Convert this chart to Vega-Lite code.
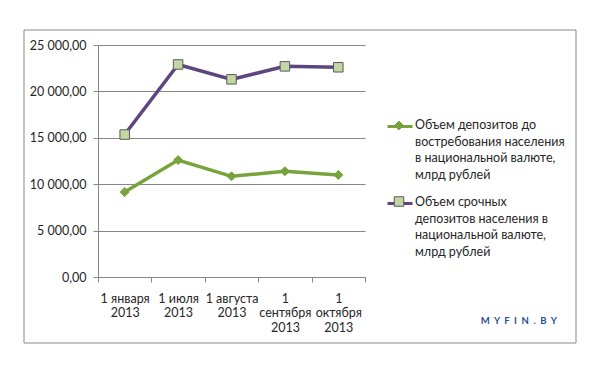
{
  "$schema": "https://vega.github.io/schema/vega-lite/v6.json",
  "autosize": {"type": "none"},
  "width": 267,
  "height": 232,
  "padding": {"left": 98, "top": 45, "right": 229, "bottom": 89},
  "background": "white",
  "title": {"text": "M\u00a0\u00a0Y\u00a0\u00a0F\u00a0\u00a0I\u00a0\u00a0N\u00a0\u00a0.\u00a0\u00a0B\u00a0\u00a0Y", "orient": "bottom", "anchor": "end", "frame": "group", "dx": 192, "offset": -28, "fontSize": 9.5, "fontWeight": "bold", "color": "#1f4f93", "font": "Lato"},
  "config": {
    "font": "Lato",
    "view": {"stroke": null},
    "style": {"guide-label": {"lineHeight": 16.7}},
    "axis": {"labelFont": "Lato", "labelFontSize": 12.5, "labelColor": "#262626", "domainColor": "#868686", "tickColor": "#868686", "gridColor": "#868686", "title": null},
    "legend": {"labelFont": "Lato", "labelFontSize": 12.5, "labelColor": "#262626", "labelLimit": 250}
  },
  "datasets": {
    "deposits": [
      {"date": "1 января\n2013", "series": "Объем депозитов до\nвостребования населения\nв национальной валюте,\nмлрд рублей", "value": 9150},
      {"date": "1 июля\n2013", "series": "Объем депозитов до\nвостребования населения\nв национальной валюте,\nмлрд рублей", "value": 12600},
      {"date": "1 августа\n2013", "series": "Объем депозитов до\nвостребования населения\nв национальной валюте,\nмлрд рублей", "value": 10850},
      {"date": "1\nсентября\n2013", "series": "Объем депозитов до\nвостребования населения\nв национальной валюте,\nмлрд рублей", "value": 11400},
      {"date": "1\nоктября\n2013", "series": "Объем депозитов до\nвостребования населения\nв национальной валюте,\nмлрд рублей", "value": 11000},
      {"date": "1 января\n2013", "series": "Объем срочных\nдепозитов населения в\nнациональной валюте,\nмлрд рублей", "value": 15350},
      {"date": "1 июля\n2013", "series": "Объем срочных\nдепозитов населения в\nнациональной валюте,\nмлрд рублей", "value": 22900},
      {"date": "1 августа\n2013", "series": "Объем срочных\nдепозитов населения в\nнациональной валюте,\nмлрд рублей", "value": 21300},
      {"date": "1\nсентября\n2013", "series": "Объем срочных\nдепозитов населения в\nнациональной валюте,\nмлрд рублей", "value": 22700},
      {"date": "1\nоктября\n2013", "series": "Объем срочных\nдепозитов населения в\nнациональной валюте,\nмлрд рублей", "value": 22600}
    ]
  },
  "data": {"name": "deposits"},
  "encoding": {
    "x": {
      "field": "date", "type": "nominal", "sort": null,
      "scale": {"paddingInner": 0, "paddingOuter": 0},
      "axis": {"labelAngle": 0, "labelExpr": "split(datum.label, '\\n')", "labelLineHeight": 14.5, "labelBaseline": "top", "labelPadding": 10, "tickBand": "extent", "tickSize": 5, "grid": false}
    },
    "y": {
      "field": "value", "type": "quantitative",
      "scale": {"domain": [0, 25000], "nice": false},
      "axis": {"values": [0, 5000, 10000, 15000, 20000, 25000], "tickSize": 5, "labelPadding": 7, "grid": true,
        "labelExpr": "replace(replace(format(datum.value, ',.2f'), ',', ' '), '.', ',')"}
    }
  },
  "layer": [
    {
      "data": {"values": [{}]},
      "mark": {"type": "rect", "fill": null, "stroke": "#898989", "strokeWidth": 1},
      "encoding": {"x": {"value": -74}, "x2": {"value": 478}, "y": {"value": -15}, "y2": {"value": 298}}
    },
    {
      "mark": {"type": "line", "strokeWidth": 3.5},
      "encoding": {
        "color": {"field": "series", "type": "nominal",
          "scale": {"domain": ["Объем депозитов до\nвостребования населения\nв национальной валюте,\nмлрд рублей", "Объем срочных\nдепозитов населения в\nнациональной валюте,\nмлрд рублей"], "range": ["#77a33b", "#5d4680"]},
          "legend": {"title": null, "orient": "none", "legendX": 288, "legendY": 60, "padding": 0, "symbolType": "M-1,0.6H1", "symbolSize": 625, "symbolStrokeWidth": 3, "labelOffset": 1, "rowPadding": 0, "labelExpr": "split(datum.label, '\\n')", "labelBaseline": "top"}
        }
      }
    },
    {
      "mark": {"type": "point", "filled": true, "opacity": 1, "strokeWidth": 1, "size": 625},
      "encoding": {
        "shape": {"field": "series", "type": "nominal", "scale": {"range": ["M0,-0.36L0.36,0L0,0.36L-0.36,0Z", "M-0.38,-0.38H0.38V0.38H-0.38Z"]},
          "legend": {"title": null, "orient": "none", "legendX": 288, "legendY": 67.5, "padding": 0, "symbolSize": 625, "symbolStrokeWidth": 1, "labelOffset": 169, "rowPadding": 0, "labelOpacity": 0, "labelExpr": "['.', '.', '.', '.']", "labelBaseline": "top"}},
        "fill": {"field": "series", "type": "nominal", "scale": {"range": ["#77a33b", "#c3d6a3"]}},
        "stroke": {"field": "series", "type": "nominal", "scale": {"range": ["#77a33b", "#5a5a5a"]}}
      }
    }
  ]
}
